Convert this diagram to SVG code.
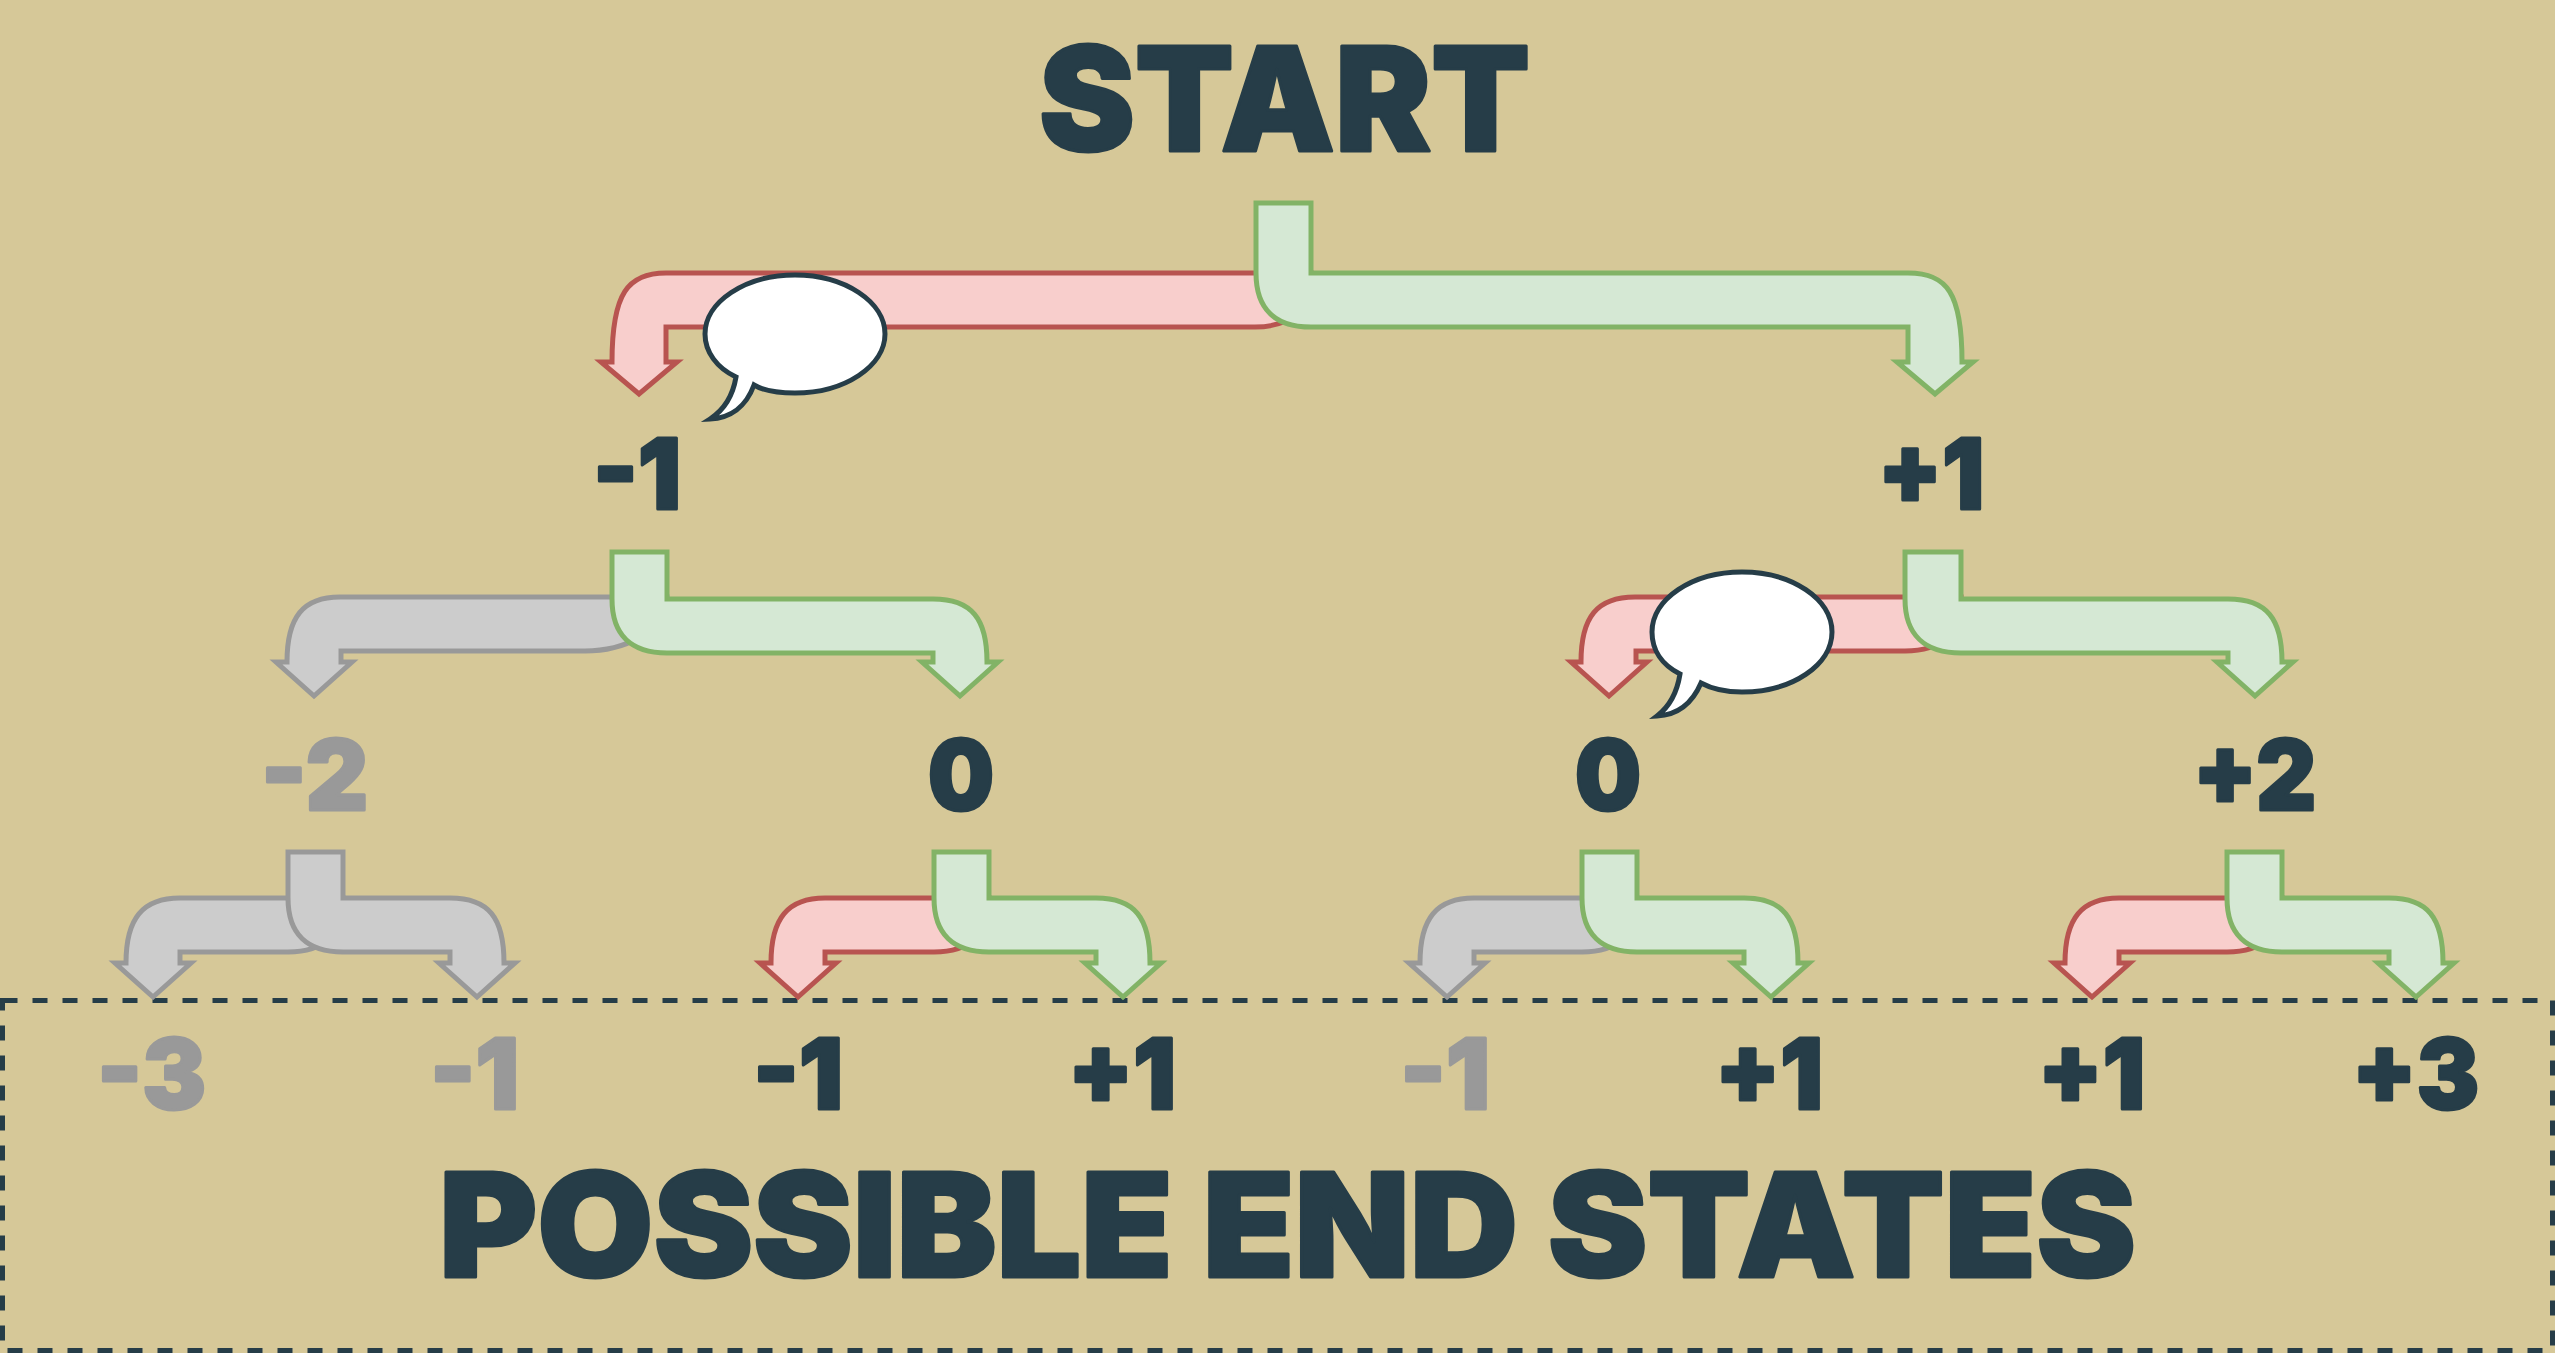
<svg xmlns="http://www.w3.org/2000/svg" width="2555" height="1353" viewBox="0 0 2555 1353">
<style>
.t{font-family:Inter,"Liberation Sans",sans-serif;font-weight:900;fill:#263d48;stroke:#263d48;stroke-width:3;stroke-linejoin:round;text-anchor:start}
.big{font-size:145px}
.n{font-size:97px}
.off{fill:#999999;stroke:#999999}
.r,.g,.k{stroke-width:5;stroke-linejoin:miter;stroke-miterlimit:10}
.r{fill:#f8cecc;stroke:#b85450}
.g{fill:#d5e8d4;stroke:#82b366}
.k{fill:#cccccc;stroke:#999999}
.b{fill:#ffffff;stroke:#263d48;stroke-width:5;stroke-linejoin:miter;stroke-miterlimit:10}
</style>
<rect width="2555" height="1353" fill="#d6c898"/>
<rect id="end-states-box" x="2.5" y="1000.500" width="2550" height="350" fill="none" stroke="#263d48" stroke-width="5" stroke-dasharray="15 15"/>
<g id="connectors">
<path class="r" d="M1311 273H666C628 273 612 293 612 362H601L639 394L677 362H666V327H1255C1291 327 1311 309 1311 273Z"/>
<path class="g" d="M1256 203H1311V273H1908C1947 273 1962 293 1962 362H1973L1935 394L1897 362H1908V327H1311C1275 327 1256 309 1256 273Z"/>
<path class="k" d="M640 597H340C303 597 287 617 287 662H276L314 696L352 662H341V651H585C621 651 667 633 667 597Z"/>
<path class="g" d="M612 552H667V599H933C972 599 987 619 987 662H998L960 696L922 662H933V653H667C631 653 612 635 612 599Z"/>
<path class="r" d="M1933 597H1635C1597 597 1581 617 1581 662H1571L1609 696L1647 662H1636V651H1905C1941 651 1961 633 1961 597Z"/>
<path class="g" d="M1905 552H1961V599H2228C2267 599 2282 619 2282 662H2293L2255 696L2217 662H2228V653H1961C1925 653 1905 635 1905 599Z"/>
<path class="k" d="M343 898H180C143 898 126 918 126 963H115L153 997L191 963H180V952H288C324 952 343 934 343 898Z"/>
<path class="k" d="M288 852H343V898H450C489 898 504 918 504 963H515L477 997L439 963H450V952H343C307 952 288 934 288 898Z"/>
<path class="r" d="M989 898H825C788 898 771 918 771 963H760L798 997L836 963H825V952H934C970 952 989 934 989 898Z"/>
<path class="g" d="M934 852H989V898H1096C1135 898 1150 918 1150 963H1161L1123 997L1085 963H1096V952H989C953 952 934 934 934 898Z"/>
<path class="k" d="M1637 898H1474C1437 898 1420 918 1420 963H1409L1447 997L1485 963H1474V952H1582C1618 952 1637 934 1637 898Z"/>
<path class="g" d="M1582 852H1637V898H1744C1783 898 1798 918 1798 963H1809L1771 997L1733 963H1744V952H1637C1601 952 1582 934 1582 898Z"/>
<path class="r" d="M2282 898H2119C2082 898 2065 918 2065 963H2054L2092 997L2130 963H2119V952H2227C2263 952 2282 934 2282 898Z"/>
<path class="g" d="M2227 852H2282V898H2389C2428 898 2443 918 2443 963H2454L2416 997L2378 963H2389V952H2282C2246 952 2227 934 2227 898Z"/>
</g>
<g id="bubble-1"><path class="b" d="M754 385C764 391 778 393 795 393C845 393 885 366 885 334C885 302 845 275 795 275C745 275 705 302 705 334C705 352 717 368 736 377C733 395 724 410 710 419C730 418 746 407 754 385Z"/></g>
<g id="bubble-2"><path class="b" d="M1701 683C1712 689 1726 692 1742 692C1792 692 1832 665 1832 632C1832 599 1792 572 1742 572C1692 572 1652 599 1652 632C1652 650 1662 665 1680 674C1677 693 1669 707 1657 716C1677 715 1692 704 1701 683Z"/></g>
<g id="start"><text class="t big" x="1039" y="151" textLength="491" lengthAdjust="spacingAndGlyphs">START</text></g>
<g id="n-m1"><text class="t n" x="593" y="509" textLength="88" lengthAdjust="spacingAndGlyphs">-1</text></g>
<g id="n-p1"><text class="t n" x="1878" y="509" textLength="106" lengthAdjust="spacingAndGlyphs">+1</text></g>
<g id="n-m2"><text class="t n off" x="261" y="810" textLength="107" lengthAdjust="spacingAndGlyphs">-2</text></g>
<g id="n-0a"><text class="t n" x="928" y="810" textLength="66" lengthAdjust="spacingAndGlyphs">0</text></g>
<g id="n-0b"><text class="t n" x="1575" y="810" textLength="66" lengthAdjust="spacingAndGlyphs">0</text></g>
<g id="n-p2"><text class="t n" x="2193" y="810" textLength="123" lengthAdjust="spacingAndGlyphs">+2</text></g>
<g id="e-m3"><text class="t n off" x="97" y="1109" textLength="109" lengthAdjust="spacingAndGlyphs">-3</text></g>
<g id="e-m1a"><text class="t n off" x="430" y="1109" textLength="89" lengthAdjust="spacingAndGlyphs">-1</text></g>
<g id="e-m1b"><text class="t n" x="753" y="1109" textLength="90" lengthAdjust="spacingAndGlyphs">-1</text></g>
<g id="e-p1a"><text class="t n" x="1068" y="1109" textLength="108" lengthAdjust="spacingAndGlyphs">+1</text></g>
<g id="e-m1c"><text class="t n off" x="1400" y="1109" textLength="90" lengthAdjust="spacingAndGlyphs">-1</text></g>
<g id="e-p1b"><text class="t n" x="1715" y="1109" textLength="108" lengthAdjust="spacingAndGlyphs">+1</text></g>
<g id="e-p1c"><text class="t n" x="2038" y="1109" textLength="107" lengthAdjust="spacingAndGlyphs">+1</text></g>
<g id="e-p3"><text class="t n" x="2352" y="1109" textLength="127" lengthAdjust="spacingAndGlyphs">+3</text></g>
<g id="end"><text class="t big" x="439" y="1277" textLength="1697" lengthAdjust="spacingAndGlyphs">POSSIBLE END STATES</text></g>
</svg>
